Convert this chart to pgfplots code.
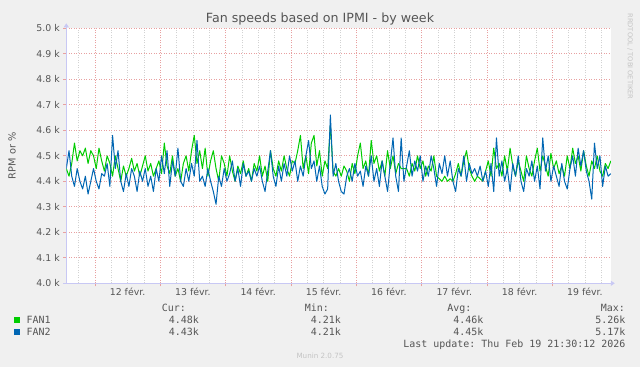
\documentclass[border=0pt]{standalone}
\usepackage{pgfplots}
\pgfplotsset{compat=1.18}
\usepackage{pgfplotstable}
\usepackage{fontspec}
\setmainfont{DejaVu Sans}
\setmonofont{DejaVu Sans Mono}
\usetikzlibrary{arrows.meta}
\definecolor{bgc}{HTML}{F0F0F0}
\definecolor{fanone}{HTML}{00CC00}
\definecolor{fantwo}{HTML}{0066B3}
\definecolor{txt}{HTML}{555555}
\definecolor{mgrid}{HTML}{E8A0A0}
\definecolor{sgrid}{HTML}{D2D2D2}
\definecolor{axc}{HTML}{C8C8F4}
\definecolor{faint}{HTML}{C4C4C4}

\pgfplotstableread{
f1 f2
4.45 4.45
4.42 4.52
4.47 4.42
4.55 4.38
4.48 4.45
4.52 4.40
4.50 4.37
4.53 4.42
4.47 4.35
4.52 4.40
4.50 4.45
4.45 4.40
4.53 4.37
4.48 4.43
4.44 4.42
4.50 4.47
4.47 4.38
4.42 4.58
4.50 4.45
4.45 4.52
4.40 4.40
4.46 4.36
4.42 4.43
4.45 4.38
4.49 4.45
4.44 4.42
4.47 4.36
4.42 4.44
4.46 4.40
4.50 4.45
4.44 4.38
4.47 4.42
4.42 4.36
4.45 4.45
4.48 4.40
4.43 4.50
4.55 4.43
4.46 4.52
4.43 4.38
4.50 4.48
4.42 4.42
4.45 4.53
4.40 4.40
4.47 4.38
4.50 4.45
4.44 4.40
4.52 4.47
4.58 4.42
4.47 4.56
4.52 4.40
4.45 4.42
4.53 4.38
4.42 4.45
4.48 4.40
4.52 4.36
4.45 4.31
4.40 4.42
4.50 4.38
4.47 4.45
4.42 4.40
4.50 4.43
4.44 4.48
4.40 4.40
4.46 4.45
4.43 4.38
4.48 4.47
4.42 4.42
4.45 4.44
4.40 4.40
4.47 4.45
4.44 4.42
4.50 4.46
4.42 4.40
4.46 4.36
4.40 4.44
4.52 4.52
4.45 4.42
4.42 4.38
4.48 4.46
4.44 4.40
4.50 4.47
4.45 4.42
4.42 4.50
4.48 4.44
4.47 4.48
4.52 4.40
4.58 4.46
4.45 4.42
4.50 4.50
4.43 4.56
4.55 4.45
4.58 4.48
4.46 4.40
4.52 4.46
4.42 4.38
4.48 4.35
4.45 4.37
4.62 4.66
4.44 4.42
4.42 4.47
4.45 4.40
4.42 4.36
4.46 4.35
4.44 4.42
4.40 4.45
4.47 4.40
4.43 4.47
4.50 4.42
4.55 4.44
4.45 4.38
4.48 4.46
4.42 4.42
4.56 4.50
4.47 4.40
4.50 4.45
4.44 4.38
4.48 4.48
4.42 4.42
4.52 4.36
4.45 4.47
4.50 4.57
4.43 4.42
4.47 4.36
4.45 4.57
4.45 4.40
4.45 4.46
4.42 4.52
4.47 4.42
4.44 4.48
4.50 4.44
4.45 4.50
4.48 4.40
4.42 4.46
4.46 4.42
4.44 4.50
4.50 4.45
4.42 4.38
4.41 4.47
4.40 4.43
4.42 4.50
4.40 4.42
4.41 4.48
4.40 4.40
4.43 4.36
4.47 4.45
4.42 4.42
4.48 4.50
4.52 4.40
4.45 4.47
4.42 4.43
4.40 4.45
4.42 4.42
4.41 4.46
4.40 4.40
4.44 4.44
4.48 4.38
4.42 4.47
4.53 4.36
4.45 4.57
4.47 4.42
4.42 4.48
4.50 4.40
4.44 4.45
4.53 4.36
4.46 4.47
4.42 4.42
4.48 4.50
4.44 4.40
4.40 4.36
4.50 4.45
4.45 4.42
4.42 4.48
4.48 4.40
4.53 4.46
4.44 4.37
4.50 4.57
4.46 4.44
4.42 4.50
4.51 4.40
4.45 4.46
4.48 4.42
4.43 4.38
4.46 4.47
4.42 4.40
4.50 4.37
4.45 4.45
4.53 4.50
4.47 4.42
4.50 4.53
4.44 4.46
4.52 4.52
4.46 4.44
4.42 4.40
4.48 4.33
4.45 4.55
4.50 4.45
4.44 4.50
4.42 4.38
4.47 4.46
4.45 4.42
4.48 4.43
}\fandata

\begin{document}
\begin{tikzpicture}[x=1bp,y=1bp]
\fill[bgc] (0,0) rectangle (640,367);
\useasboundingbox (0,0) rectangle (640,367);
\begin{axis}[
  at={(66.3bp,83.7bp)}, anchor=south west,
  width=544.5bp, height=255bp, scale only axis,
  xmin=0, xmax=200, ymin=4.0, ymax=5.0,
  axis background/.style={fill=white},
  axis x line=bottom, axis y line=left,
  axis line style={draw=axc, line width=0.9bp},
  x axis line style={-{Triangle[length=4bp,width=5bp]}, shorten >=-4bp, shorten <=-3bp},
  y axis line style={-{Triangle[length=4bp,width=5bp]}, shorten >=-5bp},
  xtick={10.5,34.5,58.5,82.5,106.5,130.5,154.5,178.5},
  xticklabels={},
  minor xtick={4.5,16.5,22.5,28.5,40.5,46.5,52.5,64.5,70.5,76.5,88.5,94.5,100.5,112.5,118.5,124.5,136.5,142.5,148.5,160.5,166.5,172.5,184.5,190.5,196.5},
  extra x ticks={22.5,46.5,70.5,94.5,118.5,142.5,166.5,190.5},
  extra x tick labels={12 févr.,13 févr.,14 févr.,15 févr.,16 févr.,17 févr.,18 févr.,19 févr.},
  extra x tick style={grid=none, major tick length=0pt, xticklabel style={yshift=-1bp}},
  ytick={4.0,4.1,4.2,4.3,4.4,4.5,4.6,4.7,4.8,4.9,5.0},
  yticklabels={4.0 k,4.1 k,4.2 k,4.3 k,4.4 k,4.5 k,4.6 k,4.7 k,4.8 k,4.9 k,5.0 k},
  grid=both,
  major grid style={draw=mgrid, line width=0.7bp, dash pattern=on 1bp off 1.5bp},
  minor grid style={draw=sgrid, line width=0.7bp, dash pattern=on 1bp off 1.5bp},
  tick style={draw=mgrid, line width=0.7bp},
  major tick length=3bp, minor tick length=0pt,
  tick align=outside,
  ticklabel style={font=\fontsize{9.4}{11}\selectfont, text=txt},
  clip=true,
]
\addplot[fanone, line width=1bp, line join=round] table[x expr=\coordindex, y=f1] {\fandata};
\addplot[fantwo, line width=1bp, line join=round] table[x expr=\coordindex, y=f2] {\fandata};
\end{axis}

% title
\node[font=\fontsize{12.7}{15}\selectfont, text=txt] at (320,348) {Fan speeds based on IPMI - by week};
% y label
\node[font=\fontsize{9.8}{12}\selectfont, text=txt, rotate=90] at (12,211.2) {RPM or \%};
% rrdtool
\node[font=\fontsize{6.7}{8}\selectfont, text=faint, rotate=-90] at (630,310.5) {RRDTOOL / TOBI OETIKER};

% legend
\begin{scope}[every node/.style={font=\ttfamily\fontsize{10}{12}\selectfont, text=txt, inner sep=0pt}]
\node[anchor=base east] at (186,55.4) {Cur:};
\node[anchor=base east] at (329,55.4) {Min:};
\node[anchor=base east] at (471.5,55.4) {Avg:};
\node[anchor=base east] at (625,55.4) {Max:};
\fill[fanone] (14,44.5) rectangle (20,50.5);
\node[anchor=base west] at (26.5,43.9) {FAN1};
\node[anchor=base east] at (199,43.9) {4.48k};
\node[anchor=base east] at (341,43.9) {4.21k};
\node[anchor=base east] at (483.5,43.9) {4.46k};
\node[anchor=base east] at (625.5,43.9) {5.26k};
\fill[fantwo] (14,32.5) rectangle (20,38.5);
\node[anchor=base west] at (26.5,31.9) {FAN2};
\node[anchor=base east] at (199,31.9) {4.43k};
\node[anchor=base east] at (341,31.9) {4.21k};
\node[anchor=base east] at (483.5,31.9) {4.45k};
\node[anchor=base east] at (625.5,31.9) {5.17k};
\node[anchor=base east] at (625.5,19.9) {Last update: Thu Feb 19 21:30:12 2026};
\end{scope}
\node[font=\fontsize{7.2}{9}\selectfont, text=faint, anchor=base, inner sep=0pt] at (320,8.4) {Munin 2.0.75};
\end{tikzpicture}
\end{document}
